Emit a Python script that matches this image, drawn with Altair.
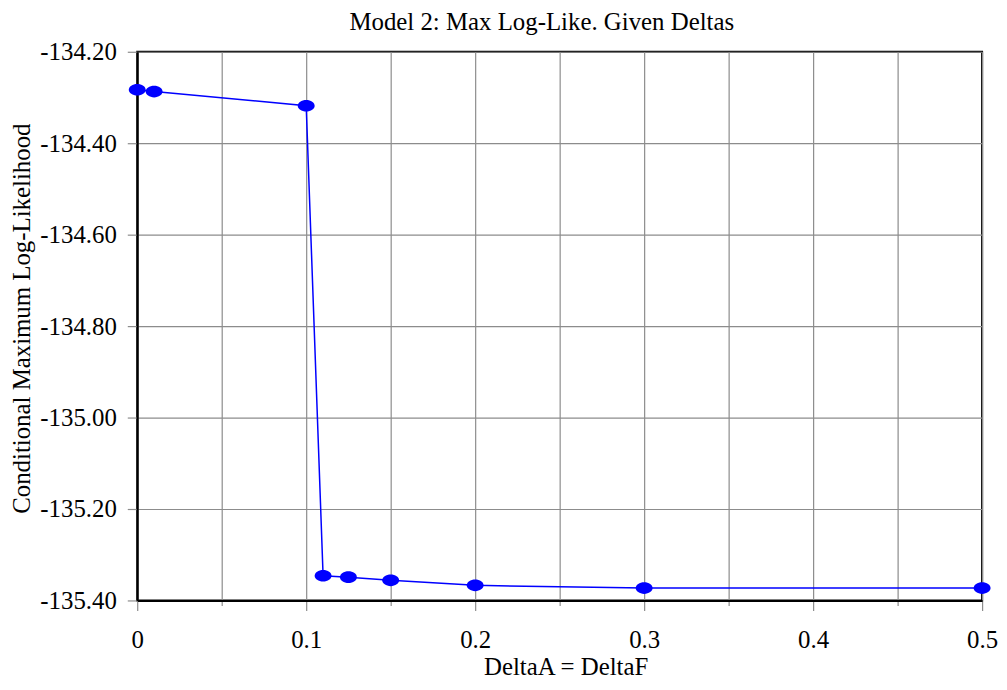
import altair as alt
import pandas as pd

delta = [0.0, 0.01, 0.1, 0.11, 0.125, 0.15, 0.2, 0.3, 0.5]
loglike = [-134.283, -134.287, -134.318, -135.346, -135.349, -135.356, -135.367, -135.373, -135.373]
x_ticks = [0.0, 0.05, 0.1, 0.15, 0.2, 0.25, 0.3, 0.35, 0.4, 0.45, 0.5]
y_ticks = [-135.4, -135.2, -135.0, -134.8, -134.6, -134.4, -134.2]

df = pd.DataFrame({"delta": delta, "ll": loglike})
font = "Liberation Serif"
major = "abs(datum.value*10 - round(datum.value*10)) < 0.01"

x = alt.X(
    "delta:Q",
    scale=alt.Scale(domain=[0, 0.5], nice=False, zero=False),
    axis=alt.Axis(
        values=x_ticks,
        title="DeltaA = DeltaF",
        grid=True,
        gridColor="#8c8c8c",
        gridWidth=1.2,
        tickColor="#8c8c8c",
        tickWidth=1.2,
        tickSize={"condition": {"test": major, "value": 10}, "value": 5},
        labelExpr=major + " ? format(datum.value, '.1~f') : ''",
        labelOverlap=False,
        labelFlush=False,
        labelPadding=17,
        titleX=431,
        titleY=75,
        titleBaseline="alphabetic",
        domainColor="black",
        domainWidth=2,
    ),
)
y = alt.Y(
    "ll:Q",
    scale=alt.Scale(domain=[-135.4, -134.2], nice=False, zero=False),
    axis=alt.Axis(
        values=y_ticks,
        labelExpr="(datum.value < 0 ? '-' : '') + format(abs(datum.value), '.2f')",
        title="Conditional Maximum Log-Likelihood",
        grid=True,
        gridColor="#8c8c8c",
        gridWidth=1.2,
        tickColor="#8c8c8c",
        tickWidth=1.2,
        tickSize=10,
        labelPadding=11,
        labelOverlap=False,
        labelFlush=False,
        titleX=-116,
        titleY=268,
        titleAngle=270,
        titleBaseline="middle",
        titleAlign="center",
        domainColor="black",
        domainWidth=2,
    ),
)

base = alt.Chart(df)
line = base.mark_line(color="#0000ff", strokeWidth=1.5).encode(x=x, y=y)
pts = base.mark_point(
    filled=True,
    color="#0000ff",
    opacity=1,
    size=289,
    shape="M-1,0A1,0.69,0,1,1,1,0A1,0.69,0,1,1,-1,0Z",
).encode(x=x, y=y)

chart = (
    alt.layer(line, pts)
    .properties(
        width=850,
        height=552,
        autosize=alt.AutoSizeParams(type="none"),
        padding={"left": 130, "top": 42, "right": 17, "bottom": 80},
        title=alt.TitleParams(
            "Model 2: Max Log-Like. Given Deltas",
            font=font,
            fontSize=25,
            fontWeight="normal",
            color="black",
            anchor="middle",
            dx=-18,
            offset=-15,
            baseline="alphabetic",
        ),
    )
    .configure_view(stroke="black", strokeWidth=2)
    .configure_axis(
        labelFont=font,
        titleFont=font,
        labelFontSize=25,
        titleFontSize=25,
        titleFontWeight="normal",
        labelColor="black",
        titleColor="black",
    )
)

chart.save("out.html", embed_options={"renderer": "svg", "actions": False})
